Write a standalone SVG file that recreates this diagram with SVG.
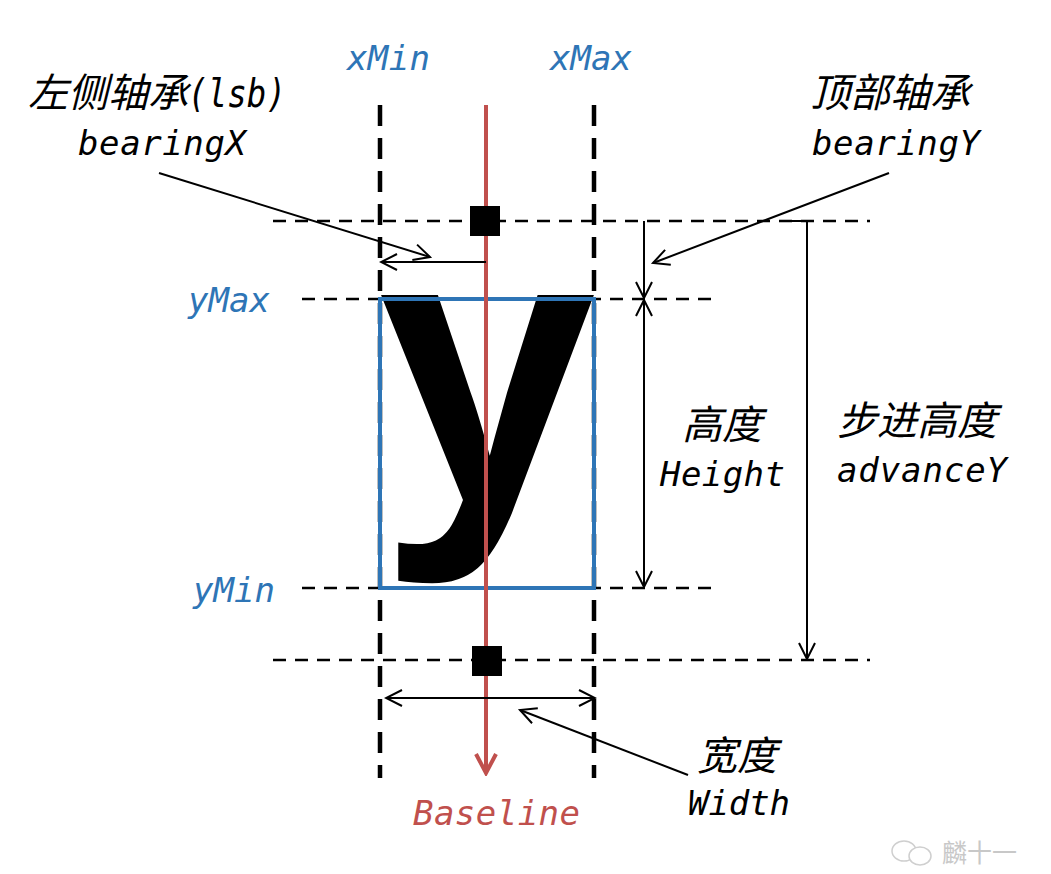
<svg xmlns="http://www.w3.org/2000/svg" width="1051" height="874" viewBox="0 0 1051 874">
<style>
.cjk{font-family:"Noto Sans CJK SC",sans-serif;font-style:italic;font-size:40px;fill:#000}
.lat{font-family:"DejaVu Sans Mono","Liberation Mono",monospace;font-style:italic;font-size:34px;fill:#000}
.big{font-size:39px}
.blue{fill:#2e75b6}
.red{fill:#c0504d}
.vdash{stroke:#000;stroke-width:4.5;stroke-dasharray:21 12;fill:none}
.hdash{stroke:#000;stroke-width:2.5;stroke-dasharray:13 9;fill:none}
.dim{stroke:#000;stroke-width:2;fill:none}
</style>
<defs>
<marker id="ah" viewBox="0 0 20 20" refX="18" refY="10" markerWidth="20" markerHeight="20" markerUnits="userSpaceOnUse" orient="auto-start-reverse">
<path d="M2,2 L18,10 L2,18" fill="none" stroke="#000" stroke-width="2"/>
</marker>
<marker id="ahr" viewBox="0 0 24 24" refX="21" refY="12" markerWidth="24" markerHeight="24" markerUnits="userSpaceOnUse" orient="auto">
<path d="M2,2 L21,12 L2,22" fill="none" stroke="#c0504d" stroke-width="4"/>
</marker>
</defs>
<rect width="1051" height="874" fill="#fff"/>

<g id="guides">
<line class="vdash" x1="380" y1="105" x2="380" y2="778"/>
<line class="vdash" x1="594" y1="105" x2="594" y2="778"/>
<line class="hdash" x1="273" y1="221" x2="870" y2="221"/>
<line class="hdash" x1="302" y1="299" x2="712" y2="299"/>
<line class="hdash" x1="302" y1="588" x2="712" y2="588"/>
<line class="hdash" x1="273" y1="660" x2="870" y2="660"/>
</g>

<g id="glyph">
<text x="487" y="502" text-anchor="middle" font-family="Liberation Sans, Arial, sans-serif" font-weight="bold" font-size="392" fill="#000">y</text>
</g>

<g id="bbox">
<rect x="380" y="299" width="214" height="289" fill="none" stroke="#2e75b6" stroke-width="4"/>
</g>

<g id="baseline">
<line x1="486" y1="105" x2="486" y2="773" stroke="#c0504d" stroke-width="4" marker-end="url(#ahr)"/>
</g>

<g id="origins">
<rect x="470" y="206" width="30" height="30" fill="#000"/>
<rect x="472" y="646" width="30" height="30" fill="#000"/>
</g>

<g id="connectors">
<line class="dim" x1="486" y1="262" x2="381" y2="262" marker-end="url(#ah)"/>
<line class="dim" x1="159" y1="173" x2="430" y2="257" marker-end="url(#ah)"/>
<line class="dim" x1="644" y1="221" x2="644" y2="298" marker-end="url(#ah)"/>
<line class="dim" x1="644" y1="300" x2="644" y2="587" marker-start="url(#ah)" marker-end="url(#ah)"/>
<line class="dim" x1="889" y1="173" x2="653" y2="263" marker-end="url(#ah)"/>
<polyline class="dim" points="790,221 807,221 807,659" marker-end="url(#ah)"/>
<line class="dim" x1="386" y1="698" x2="595" y2="698" marker-start="url(#ah)" marker-end="url(#ah)"/>
<line class="dim" x1="688" y1="775" x2="520" y2="710" marker-end="url(#ah)"/>
</g>

<g id="labels">
<text class="cjk" x="28" y="107">左侧轴承<tspan class="lat big" textLength="98" lengthAdjust="spacingAndGlyphs">(lsb)</tspan></text>
<text class="lat" x="78" y="155" textLength="168" lengthAdjust="spacing">bearingX</text>
<text class="lat blue" x="347" y="70" textLength="83" lengthAdjust="spacing">xMin</text>
<text class="lat blue" x="550" y="70" textLength="82" lengthAdjust="spacing">xMax</text>
<text class="lat blue" x="188" y="312" textLength="82" lengthAdjust="spacing">yMax</text>
<text class="lat blue" x="193" y="602" textLength="82" lengthAdjust="spacing">yMin</text>
<text class="cjk" x="810" y="107">顶部轴承</text>
<text class="lat" x="812" y="155" textLength="168" lengthAdjust="spacing">bearingY</text>
<text class="cjk" x="682" y="439">高度</text>
<text class="lat" x="660" y="486" textLength="125" lengthAdjust="spacing">Height</text>
<text class="cjk" x="837" y="435">步进高度</text>
<text class="lat" x="837" y="482" textLength="170" lengthAdjust="spacing">advanceY</text>
<text class="cjk" x="697" y="770">宽度</text>
<text class="lat" x="688" y="815" textLength="102" lengthAdjust="spacing">Width</text>
<text class="lat red" x="413" y="825" textLength="167" lengthAdjust="spacing">Baseline</text>
</g>

<g id="watermark" fill="none" stroke="#cfcfcf" stroke-width="1.5">
<ellipse cx="904" cy="851" rx="12" ry="10"/>
<ellipse cx="920" cy="856" rx="11" ry="9" fill="#fff"/>
<text x="942" y="862" font-family="Noto Sans CJK SC, sans-serif" font-size="25" fill="#c8c8c8" stroke="none">麟十一</text>
</g>
</svg>
